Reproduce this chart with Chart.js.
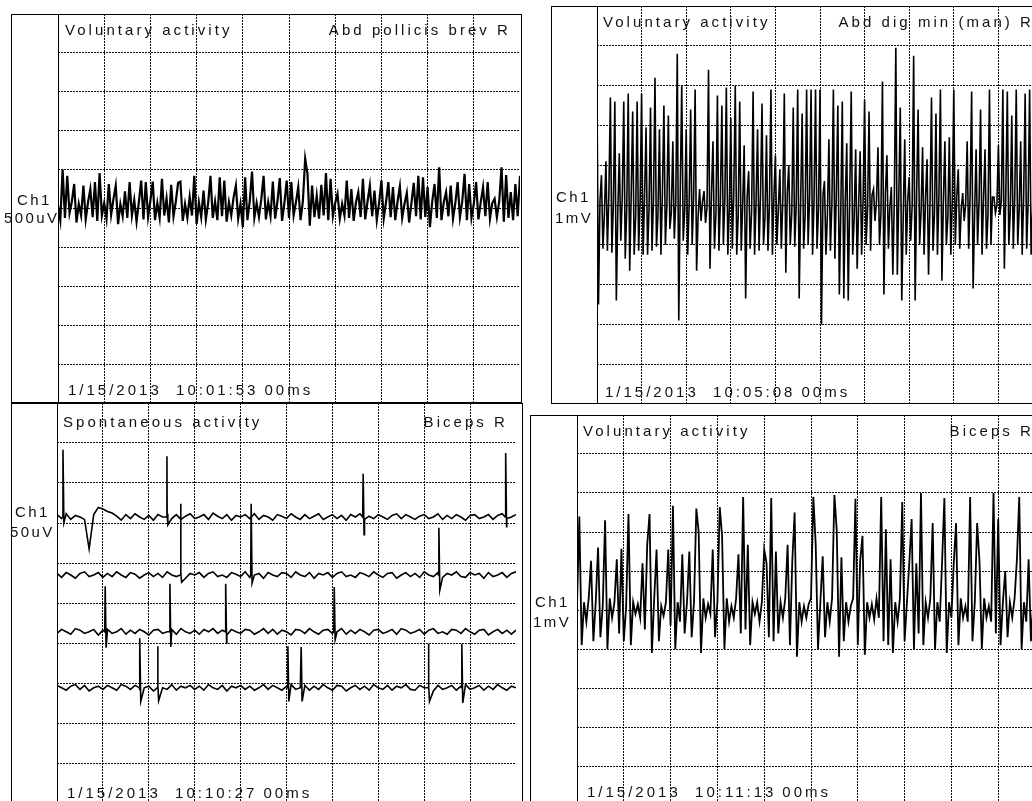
<!DOCTYPE html>
<html><head><meta charset="utf-8">
<script src="https://cdn.jsdelivr.net/npm/chart.js@4.4.1/dist/chart.umd.min.js"></script>
<style>
html,body{margin:0;padding:0;background:#fff;width:1032px;height:801px;overflow:hidden;position:relative}
.fr{position:absolute;border:1px solid #000;box-sizing:border-box;z-index:2}
.vl{position:absolute;width:1px;background:#000;z-index:2}
.tx{position:absolute;font-family:"Liberation Sans",Arial,sans-serif;font-size:15px;line-height:15px;letter-spacing:3.05px;color:#111;white-space:pre;z-index:3}
.lb{letter-spacing:2.4px}
.dt{letter-spacing:3.0px}
</style></head><body>

<!-- frames -->
<div class="fr" style="left:11px;top:14px;width:511px;height:389px"></div>
<div class="vl" style="left:58px;top:14px;height:389px"></div>
<div class="fr" style="left:551px;top:6px;width:600px;height:398px"></div>
<div class="vl" style="left:597px;top:6px;height:398px"></div>
<div class="fr" style="left:11px;top:403px;width:512px;height:500px"></div>
<div class="vl" style="left:57px;top:403px;height:500px"></div>
<div class="fr" style="left:530px;top:415px;width:600px;height:500px"></div>
<div class="vl" style="left:577px;top:415px;height:500px"></div>

<!-- panel 1 text -->
<div class="tx" style="left:65px;top:22px">Voluntary activity</div>
<div class="tx" style="right:521px;top:22px">Abd pollicis brev R</div>
<div class="tx dt" style="left:68px;top:382px">1/15/2013  10:01:53&#8201;00ms</div>
<div class="tx lb" style="left:17px;top:192px">Ch1</div>
<div class="tx lb" style="left:4px;top:210px">500uV</div>
<!-- panel 2 text -->
<div class="tx" style="left:603px;top:14px">Voluntary activity</div>
<div class="tx" style="right:-2px;top:14px">Abd dig min (man) R</div>
<div class="tx dt" style="left:605px;top:384px">1/15/2013  10:05:08&#8201;00ms</div>
<div class="tx lb" style="left:556px;top:189px">Ch1</div>
<div class="tx lb" style="left:555px;top:210px">1mV</div>
<!-- panel 3 text -->
<div class="tx" style="left:63px;top:414px">Spontaneous activity</div>
<div class="tx" style="right:524px;top:414px">Biceps R</div>
<div class="tx dt" style="left:67px;top:785px">1/15/2013  10:10:27&#8201;00ms</div>
<div class="tx lb" style="left:15px;top:504px">Ch1</div>
<div class="tx lb" style="left:10px;top:524px">50uV</div>
<!-- panel 4 text -->
<div class="tx" style="left:583px;top:423px">Voluntary activity</div>
<div class="tx" style="right:-2px;top:423px">Biceps R</div>
<div class="tx dt" style="left:587px;top:784px">1/15/2013  10:11:13&#8201;00ms</div>
<div class="tx lb" style="left:535px;top:594px">Ch1</div>
<div class="tx lb" style="left:533px;top:614px">1mV</div>

<script>
// ---------------- DATA ----------------
// Sweep time axis: 0..1000 ms (10 divisions).
const SWEEP_MS = 1000;

// Panel 1 – Abd pollicis brev R, voluntary, uV (500 uV/div), one sample every 5 ms
const p1AbdPollicisUV = [
 40,-150,500,-120,420,-60,90,315,-180,60,
 -90,295,-140,80,250,-110,340,-160,455,-90,
 70,-130,315,-80,120,295,-200,60,-100,220,
 -120,340,-90,110,-170,80,360,-140,340,-110,
 100,345,-150,70,-120,380,-90,130,-180,305,
 -100,90,330,345,-160,60,-120,150,-90,420,
 -200,80,-110,230,-140,70,420,-120,90,-150,
 400,-100,360,-170,80,-90,140,295,-130,60,
 -240,400,-150,90,475,-120,70,-110,120,420,
 -140,80,-100,345,-130,90,390,-160,70,360,
 -120,340,-90,80,275,-150,90,640,445,-220,
 295,-110,165,-130,305,-90,455,-150,380,-100,
 70,190,-130,60,-90,360,-120,250,-160,80,
 210,-110,380,-140,90,295,-100,230,-150,70,
 360,-130,80,340,-110,275,-150,90,285,-120,
 60,200,-180,70,330,-100,420,-140,400,-110,
 275,-240,90,315,-120,530,-150,80,210,-100,
 295,-130,70,340,-110,90,445,-150,315,-120,
 60,340,-140,80,275,-100,340,-130,70,125,
 -110,90,530,-170,430,-120,210,-150,315,-100,
 420
];

// Panel 2 – Abd dig min (man) R, voluntary, mV (1 mV/div)
// one [peak, trough] pair every 10 ms, plus the level between pairs
const p2PeakTroughMV = [
 2.7,-2.5, 0.75,-1.1, 1.1,-1.15, 2.7,-1.2, 2.6,-2.4, 1.3,-0.9, 2.6,-1.35, 2.8,-1.65, 2.35,-1.25, 2.6,-1.15,
 2.8,-1.25, 1.95,-1.25, 2.45,-1.15, 3.2,-1.05, 1.9,-1.25, 2.5,-1.0, 2.25,-0.6, 1.6,-0.85, 3.8,-2.9, 3.0,-0.9,
 1.9,-1.25, 2.4,-1.0, 2.9,-1.65, 0.4,-0.4, 0.35,-0.45, 3.4,-1.6, 1.6,-1.1, 2.75,-1.15, 2.5,-1.0, 2.95,-1.25,
 2.2,-1.1, 3.0,-1.25, 2.6,-1.15, 1.5,-2.35, 0.85,-1.1, 2.85,-1.25, 1.9,-1.15, 2.55,-1.0, 1.75,-1.15, 2.9,-1.25,
 1.25,-1.0, 0.9,-1.1, 2.8,-1.7, 1.0,-1.0, 2.45,-1.05, 2.9,-2.35, 2.3,-1.1, 2.9,-1.0, 2.9,-1.25, 2.9,-1.1,
 2.9,-3.0, 0.6,-1.25, 1.65,-1.15, 2.9,-1.35, 2.5,-2.25, 2.6,-2.35, 1.55,-2.4, 2.85,-1.25, 1.4,-1.6, 1.35,-1.25,
 2.65,-1.0, 2.35,-1.15, 0.4,-0.4, 1.45,-1.0, 3.1,-2.25, 1.25,-1.1, 0.45,-1.75, 3.95,-1.75, 2.45,-2.4, 1.65,-1.25,
 0.7,-0.9, 3.75,-2.4, 2.4,-1.0, 1.45,-1.25, 1.15,-1.75, 2.7,-1.15, 2.3,-1.25, 2.9,-1.9, 1.6,-1.0, 1.7,-1.25,
 2.9,-1.0, 0.9,-1.1, 0.3,-0.4, 1.6,-1.1, 2.85,-2.1, 1.4,-1.0, 2.4,-1.25, 1.4,-1.1, 2.9,-1.0, 0.2,-0.2,
 1.5,-0.25, 2.9,-1.6, 2.85,-1.0, 2.25,-1.1, 2.9,-1.0, 1.6,-1.25, 2.8,-1.1, 2.9,-1.25, 2.0,-1.0, 2.5,-1.1
];
const p2BetweenMV = [
 0.1,-0.2,0.3,0.0,-0.15,0.2,-0.1,0.25,-0.3,0.1,
 0.2,-0.1,0.15,-0.25,0.3,0.0,-0.2,0.1,0.35,-0.15,
 0.05,0.2,-0.3,0.1,-0.05,0.25,-0.2,0.1,0.15,-0.1,
 0.3,-0.25,0.0,0.2,-0.15,0.1,0.25,-0.3,0.05,0.2,
 -0.1,0.15,0.3,-0.2,0.0,0.1,-0.25,0.2,0.15,-0.1,
 0.25,-0.2,0.05,0.3,-0.15,0.1,0.2,-0.3,0.0,0.15,
 -0.1,0.25,0.1,-0.2,0.3,-0.05,0.15,0.2,-0.25,0.1,
 0.0,0.3,-0.15,0.2,0.05,-0.2,0.25,0.1,-0.3,0.15,
 0.2,-0.1,0.05,0.3,-0.2,0.1,0.15,-0.25,0.2,0.0,
 0.1,0.3,-0.15,0.2,-0.1,0.25,0.05,-0.2,0.15,0.1
];

// Panel 3 – Biceps R, spontaneous activity, 4 sweeps, uV (50 uV/div)
// baseline sampled every 10 ms, spike points as [ms, uV]
const p3Sweep1NoiseUV = [
 3,-2,4,-3,2,0,-3,-40,3,12, 10,7,5,1,-4,3,-2,4,0,-3, 2,-4,3,0,4,-2,3,-3,1,4,
 -2,0,3,-3,5,1,-2,3,-4,2, 0,3,-2,4,-3,2,0,-4,3,1, -2,4,0,-3,3,-2,1,4,-3,0,
 3,-2,2,-4,3,0,4,-3,1,-2, 3,0,-3,2,4,-2,3,0,-3,1, 3,-2,0,4,-3,2,-2,3,0,-4,
 2,3,-2,0,3,-3,2,4,-2,0, 3
];
const p3Sweep1SpikesUV = [[12,0],[13,84],[15,-7],[238.5,0],[239.5,76],[241.5,-10],[666,0],[667,54],[669,-22],[976.5,0],[977.5,80],[979.5,-12]];
const p3Sweep2NoiseUV = [
 2,-3,3,0,-4,2,4,-2,0,3, -3,2,-2,4,0,-3,3,1,-4,0, 3,-2,2,-3,4,0,-2,3,-4,2,
 0,3,-3,2,4,-2,0,-3,3,1, -2,4,-3,0,2,-4,3,0,-2,3, 2,-3,4,0,-2,3,-4,2,0,3,
 -3,2,4,-2,0,-3,3,1,-2,4, 0,-3,2,3,-4,0,3,-2,2,-3, 4,0,-2,3,-3,2,0,4,-2,-3,
 3,0,2,-4,3,-2,0,3,-3,2, 4
];
const p3Sweep2SpikesUV = [[268.5,0],[269.5,89],[271.5,-9],[422,0],[423,89],[425,-10],[831,0],[832,59],[834,-19]];
const p3Sweep3NoiseUV = [
 -2,3,0,-3,4,2,-2,0,3,-4, 2,3,-2,0,4,-3,2,-2,3,0, -4,2,3,-2,0,3,-3,4,0,-2,
 2,-3,3,0,4,-2,2,-4,3,0, -2,3,2,-3,0,4,-2,3,-3,2, 0,-4,3,2,-2,4,0,-3,2,3,
 -2,0,4,-3,2,-2,3,0,-4,2, 3,-2,0,3,-3,4,2,-2,0,3, -3,2,4,-2,0,-3,3,2,-2,4,
 0,-3,2,3,-4,0,3,-2,2,-3, 2
];
const p3Sweep3SpikesUV = [[104,0],[105,57],[107,-20],[245,0],[246,60],[248,-19],[366.5,0],[367.5,60],[369.5,-14],[603,0],[604,56],[606,-10]];
const p3Sweep4NoiseUV = [
 3,0,-3,2,4,-2,3,-4,0,2, -2,3,0,-3,4,2,-2,3,-3,0, 2,-4,3,0,-2,4,-3,2,0,3,
 -2,2,-3,4,0,-2,3,-4,2,0, 3,-2,2,-3,0,4,-2,3,0,-3, 2,4,-2,0,3,-3,2,-2,4,0,
 -3,3,2,-4,0,3,-2,2,-3,4, 0,-2,3,-3,2,0,4,-2,-3,3, 0,2,-4,3,-2,0,3,-3,2,4,
 -2,0,3,-3,2,-2,4,0,-3,2, 0
];
const p3Sweep4SpikesUV = [[179.5,0],[180.5,62],[182.5,-17],[218.5,0],[219.5,52],[221.5,-16],[502,0],[503,52],[505,-17],[531,0],[532,51],[534,-17],[808.5,0],[809.5,55],[811.5,-17],[881,0],[882,55],[884,-19]];

// Panel 4 – Biceps R, voluntary, mV (1 mV/div), one sample every 5 ms
const p4BicepsMV = [
 0.1,2.4,-0.9,0.2,-0.3,0.3,1.26,-0.8,0.2,1.6,
 -0.7,0.1,2.3,-1.0,0.3,-0.2,0.2,1.3,-0.6,1.57,
 -0.8,0.1,2.46,-0.9,0.2,-0.1,0.15,-0.2,1.2,-0.5,
 1.67,2.46,-1.1,0.3,1.55,-0.8,0.1,-0.15,0.2,1.55,
 -0.4,2.67,-1.0,0.2,-0.3,1.43,-0.6,0.2,1.5,-0.7,
 0.2,2.6,2.0,-1.1,0.3,-0.2,0.15,-0.1,1.55,-0.7,
 0.2,2.64,1.9,-1.0,0.3,-0.3,0.1,-0.2,0.3,1.43,
 -0.6,2.9,-0.5,1.67,-0.9,0.2,-0.1,0.2,-0.3,0.2,
 1.55,1.2,-0.7,2.87,-0.8,1.5,-0.6,0.2,-0.2,0.3,
 1.67,-0.9,1.25,2.5,-1.2,0.2,-0.3,0.1,-0.2,0.15,
 0.3,2.9,1.7,-1.0,0.2,1.38,-0.7,0.2,-0.3,0.3,
 2.95,2.05,-1.2,1.35,-0.8,0.2,-0.3,0.1,0.3,2.85,
 -0.9,1.25,1.9,-1.15,0.2,-0.2,0.15,-0.25,0.3,-0.2,
 2.9,-0.8,2.07,-0.9,1.3,-1.1,0.2,-0.3,0.3,2.77,
 -0.8,0.2,1.2,2.33,-1.0,1.2,-0.6,3.0,-0.9,0.2,
 -0.2,0.3,2.23,-1.0,0.2,-0.3,1.2,2.87,-1.1,0.2,
 -0.2,1.2,2.23,-0.9,0.3,-0.2,0.1,-0.3,2.9,-0.8,
 0.2,2.23,1.25,-1.0,0.3,-0.2,0.1,-0.3,3.0,-0.6,
 2.33,-0.9,0.2,1.0,-0.7,0.2,-0.2,0.3,1.3,2.9,
 -1.0,0.2,-0.3,1.3,-0.8,0.2,-0.1,0.3,1.6,-0.8,
 0.1
];

// ---------------- BUILD ----------------
function uniform(values, stepMs){ return values.map((v,i)=>({x:i*stepMs, y:v})); }
function pairsWithBetween(pairs, between, stepMs){
  const pts = [];
  for (let p = 0; p < between.length; p++){
    pts.push({x:p*stepMs, y:pairs[2*p]});
    pts.push({x:p*stepMs + stepMs/3, y:pairs[2*p+1]});
    pts.push({x:p*stepMs + 2*stepMs/3, y:between[p]});
  }
  return pts;
}
function sweep(noise, spikes, stepMs, offset){
  const pts = noise.map((v,i)=>({x:i*stepMs, y:v}));
  spikes.forEach(([t,v])=>pts.push({x:t, y:v}));
  pts.sort((a,b)=>a.x-b.x);
  return pts.map(p=>({x:p.x, y:p.y+offset}));
}

function makeChart(cfg){
  const c = document.createElement('canvas');
  c.width = cfg.w; c.height = cfg.h;
  c.style.cssText = `position:absolute;left:${cfg.left}px;top:${cfg.top}px;width:${cfg.w}px;height:${cfg.h}px;z-index:1`;
  document.body.appendChild(c);
  const grid = {color:'#111', lineWidth:1, drawTicks:false};
  const border = {display:false, dash:[2,1]};
  new Chart(c, {
    type:'line',
    data:{datasets: cfg.datasets.map(d=>({data:d, borderColor:'#000', borderWidth:cfg.lw, pointRadius:0, fill:false, tension:0, borderJoinStyle:'miter'}))},
    options:{
      responsive:false, animation:false, events:[], layout:{padding:0},
      plugins:{legend:{display:false}, tooltip:{enabled:false}, title:{display:false}},
      scales:{
        x:{type:'linear', min:0, max:SWEEP_MS, ticks:{display:false, stepSize:SWEEP_MS/10}, grid:grid, border:border},
        y:{type:'linear', min:-cfg.perDiv*5, max:cfg.perDiv*5, ticks:{display:false, stepSize:cfg.perDiv}, grid:grid, border:border}
      }
    }
  });
}

// vertical placement of the four spontaneous sweeps, in uV (display offset)
const SWEEP_OFFSETS_UV = [107.5, 35, -36, -106];

makeChart({left:58, top:14, w:462, h:389, perDiv:500, lw:2.2, datasets:[uniform(p1AbdPollicisUV, 5)]});
makeChart({left:597, top:6, w:446, h:398, perDiv:1, lw:1.6, datasets:[pairsWithBetween(p2PeakTroughMV, p2BetweenMV, 10)]});
makeChart({left:57, top:403, w:459, h:400, perDiv:50, lw:1.6, datasets:[
  sweep(p3Sweep1NoiseUV, p3Sweep1SpikesUV, 10, SWEEP_OFFSETS_UV[0]),
  sweep(p3Sweep2NoiseUV, p3Sweep2SpikesUV, 10, SWEEP_OFFSETS_UV[1]),
  sweep(p3Sweep3NoiseUV, p3Sweep3SpikesUV, 10, SWEEP_OFFSETS_UV[2]),
  sweep(p3Sweep4NoiseUV, p3Sweep4SpikesUV, 10, SWEEP_OFFSETS_UV[3])
]});
makeChart({left:577, top:415, w:468, h:390, perDiv:1, lw:1.8, datasets:[uniform(p4BicepsMV, 5)]});
</script>
</body></html>
